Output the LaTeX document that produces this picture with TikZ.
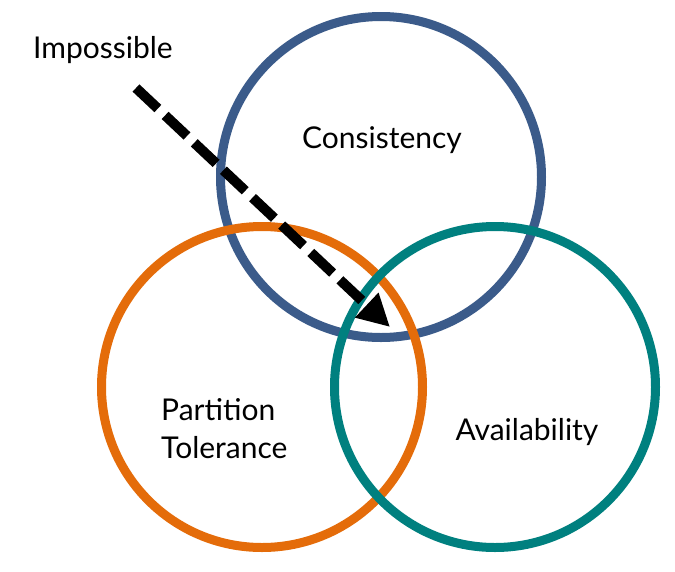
\documentclass[tikz,border=0pt]{standalone}
\usepackage{fontspec}
\setmainfont{Lato}
\usepackage{tikz}
\usetikzlibrary{arrows.meta}
\definecolor{capblue}{HTML}{3B5B8A}
\definecolor{caporange}{HTML}{E46C0A}
\definecolor{capteal}{HTML}{00807F}
\tikzstyle{ring} = [circle, minimum size=321pt, inner sep=0pt, line width=9pt]
\tikzstyle{label} = [font=\fontsize{30}{38}\selectfont, text=black, inner sep=0pt]
\tikzstyle{arrow} = [line width=10pt, dash pattern=on 30pt off 10pt, -{Triangle[length=32pt,width=32pt]}]

\begin{document}
\begin{tikzpicture}[x=1pt,y=-1pt]
\useasboundingbox (0,0) rectangle (675,571);

% Circles
\node (consistency) [ring, draw=capblue] at (381,177) {};
\node (partition) [ring, draw=caporange] at (262,387) {};
\node (availability) [ring, draw=capteal] at (495,387) {};

% Labels
\node (impossible_txt) [label] at (103,50) {Impossible};
\node (consistency_txt) [label] at (382,140) {Consistency};
\node (partition_txt) [label, align=left, anchor=west] at (161,429) {Partition\\Tolerance};
\node (availability_txt) [label] at (527,432) {Availability};

% Arrow
\coordinate (arrow_start) at (136,88);
\coordinate (arrow_end) at (390,327);
\draw [arrow] (arrow_start) -- (arrow_end);

\end{tikzpicture}
\end{document}
